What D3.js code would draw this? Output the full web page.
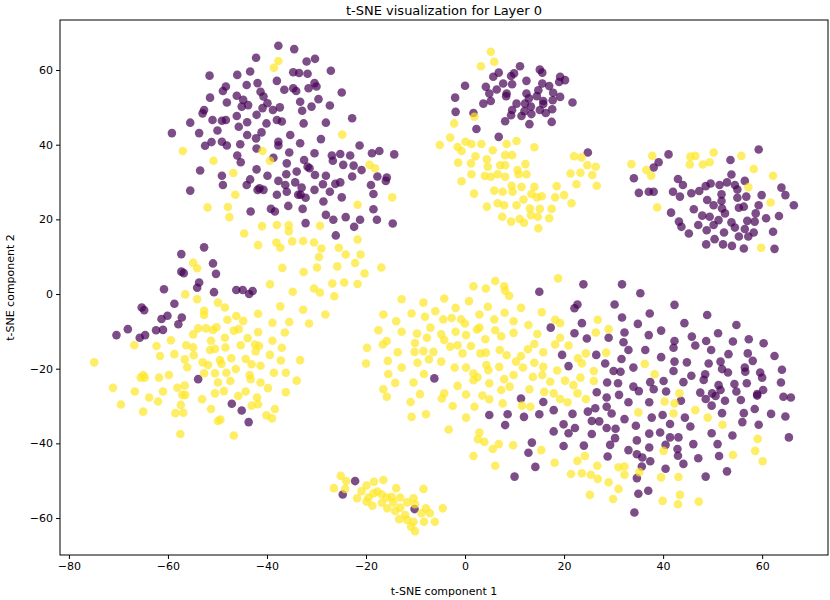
<!DOCTYPE html>
<html>
<head>
<meta charset="utf-8">
<script src="https://cdn.jsdelivr.net/npm/d3@7"></script>
<style>
  body { margin: 0; background: #fff; }
  svg { font-family: "DejaVu Sans", sans-serif; }
</style>
</head>
<body>
<div id="chart"></div>
<script>
var xTicks = [-80, -60, -40, -20, 0, 20, 40, 60];
var yTicks = [-60, -40, -20, 0, 20, 40, 60];

// label 0 (purple) and label 1 (yellow), grouped by cluster
var purpleTopLeft = [[-37.7,66.5],[-34.5,65.6],[-42.2,63.3],[-32.0,62.3],[-30.3,63.0],[-51.6,58.5],[-46.0,58.7],[-43.4,59.6],[-34.7,59.4],[-33.5,59.2],[-31.8,59.0],[-27.1,59.8],[-48.3,55.6],[-44.1,56.0],[-41.9,56.5],[-38.0,57.1],[-36.5,54.7],[-34.7,55.1],[-34.1,54.4],[-30.4,56.5],[-30.0,55.6],[-31.6,55.1],[-24.9,54.0],[-51.5,52.6],[-48.9,54.4],[-46.1,53.1],[-44.8,52.0],[-41.3,54.2],[-40.7,52.9],[-43.8,50.6],[-45.1,50.2],[-48.1,51.3],[-39.9,51.1],[-33.3,51.5],[-29.6,52.2],[-27.3,50.5],[-31.0,50.2],[-52.7,49.3],[-53.0,48.4],[-40.9,49.8],[-38.8,49.3],[-37.4,50.0],[-32.9,49.1],[-42.1,48.0],[-46.1,47.7],[-44.0,46.0],[-48.3,46.6],[-49.1,46.4],[-51.0,46.6],[-55.5,45.9],[-38.0,46.6],[-37.0,46.2],[-40.1,45.7],[-32.6,45.7],[-28.1,45.9],[-22.8,47.1],[-59.2,43.1],[-53.7,43.1],[-50.0,43.8],[-45.7,44.8],[-44.0,42.6],[-42.2,41.7],[-41.1,43.3],[-35.3,42.6],[-33.3,40.4],[-29.1,41.5],[-37.7,40.8],[-37.7,39.8],[-51.2,40.7],[-49.1,40.8],[-48.1,39.8],[-52.5,39.7],[-45.4,40.1],[-42.1,39.0],[-46.0,37.1],[-45.3,35.3],[-38.7,36.5],[-35.5,37.9],[-36.0,35.0],[-32.5,35.9],[-30.4,37.7],[-26.9,37.1],[-25.2,37.5],[-23.2,37.1],[-21.3,39.8],[-18.8,37.7],[-17.3,38.3],[-14.3,37.4],[-26.7,35.7],[-24.6,34.6],[-22.5,34.4],[-20.9,33.2],[-31.8,34.1],[-31.4,33.7],[-34.0,32.8],[-36.1,32.1],[-39.9,31.7],[-42.1,33.4],[-49.1,31.7],[-48.9,29.2],[-53.5,33.1],[-44.1,29.2],[-43.4,30.7],[-41.5,28.3],[-41.9,27.9],[-40.7,27.9],[-37.7,30.3],[-36.3,29.2],[-34.3,29.9],[-33.0,28.5],[-33.2,26.6],[-32.2,25.8],[-30.4,27.9],[-28.7,29.4],[-28.1,31.7],[-30.3,31.9],[-26.2,29.5],[-25.2,29.9],[-22.8,31.5],[-17.7,31.5],[-15.8,31.2],[-16.0,30.3],[-19.0,29.2],[-18.5,26.8],[-27.3,27.4],[-24.9,25.9],[-28.6,24.8],[-38.0,26.6],[-36.0,27.4],[-33.7,26.6],[-55.5,27.7],[-43.3,22.1],[-39.2,22.8],[-38.4,22.1],[-35.7,23.6],[-32.8,22.8],[-28.1,21.2],[-26.6,19.9],[-24.1,20.6],[-21.2,19.9],[-18.5,22.7],[-17.8,19.9],[-14.6,18.9],[-32.2,19.0],[-26.1,15.7],[-22.4,18.0]];
var yellowTopLeft = [[-37.7,62.4],[-38.6,60.6],[-57.0,38.3],[-50.8,35.7],[-40.9,38.3],[-39.4,35.7],[-24.8,42.7],[-46.8,32.4],[-46.4,26.6],[-52.0,23.2],[-47.9,23.3],[-47.6,20.6],[-19.3,34.6],[-18.2,33.7],[-14.7,25.9],[-21.7,23.9],[-29.3,18.3],[-38.0,18.5],[-41.0,18.2],[-35.6,18.4],[-35.6,16.8],[-44.6,16.2],[-38.1,13.8],[-37.3,12.4],[-34.9,14.1],[-32.7,14.2],[-30.5,13.8],[-29.0,12.2],[-29.5,9.9],[-25.5,12.4],[-21.7,14.6],[-24.1,10.6],[-21.1,10.6],[-22.2,8.3],[-25.8,7.4],[-29.9,7.1],[-32.6,5.9],[-36.9,7.0],[-16.9,7.1],[-39.4,2.6],[-34.8,0.6],[-30.5,1.5],[-29.3,0.4],[-26.8,2.8],[-24.4,3.1],[-26.4,-0.6],[-37.3,-3.3],[-32.7,-4.2],[-28.2,-5.5],[-38.9,-7.7],[-35.5,-7.5],[-31.5,-7.9]];

var purpleLeft = [[-52.7,12.5],[-57.3,10.7],[-50.9,8.2],[-57.3,6.0],[-56.8,5.6],[-50.3,5.4],[-53.7,3.1],[-54.1,1.7],[-60.8,1.3],[-50.7,0.5],[-46.2,1.1],[-44.9,1.1],[-43.6,0.0],[-42.9,0.8],[-58.7,-2.6],[-65.3,-3.6],[-64.8,-4.3],[-60.1,-5.8],[-61.3,-6.7],[-57.2,-6.3],[-57.9,-8.1],[-68.1,-9.4],[-70.4,-11.0],[-62.4,-9.7],[-61.0,-9.6],[-64.6,-11.0],[-65.7,-11.7],[-53.9,-22.8],[-47.1,-29.4],[-45.1,-31.2],[-43.7,-34.3]];
var yellowLeft = [[-41.8,13.1],[-54.9,8.4],[-54.1,6.9],[-56.5,-0.1],[-54.1,-1.4],[-49.9,-2.3],[-48.5,-3.6],[-52.7,-4.5],[-52.7,-5.6],[-41.8,-5.3],[-48.0,-6.9],[-46.2,-5.9],[-44.8,-7.2],[-53.9,-9.2],[-52.3,-9.2],[-50.9,-9.6],[-50.2,-8.9],[-54.9,-10.8],[-46.7,-9.8],[-45.7,-9.4],[-41.8,-10.2],[-66.8,-13.7],[-62.3,-13.9],[-59.4,-12.4],[-56.3,-13.7],[-54.9,-14.3],[-51.3,-12.5],[-48.5,-11.7],[-43.9,-11.8],[-41.6,-13.9],[-51.5,-15.0],[-50.5,-14.7],[-48.4,-14.3],[-45.3,-13.7],[-42.4,-13.5],[-74.9,-18.3],[-61.6,-16.6],[-58.7,-16.1],[-56.6,-17.5],[-54.8,-16.4],[-56.1,-19.6],[-53.0,-18.3],[-51.9,-19.0],[-49.5,-17.7],[-47.2,-17.2],[-44.3,-17.4],[-42.3,-15.4],[-43.1,-18.8],[-41.3,-19.2],[-49.2,-18.7],[-46.3,-20.1],[-48.2,-21.1],[-50.5,-21.2],[-52.7,-21.2],[-65.0,-21.7],[-64.7,-22.4],[-65.5,-22.4],[-61.8,-22.4],[-59.8,-21.7],[-71.1,-25.1],[-66.7,-26.1],[-63.8,-27.7],[-62.0,-28.8],[-61.0,-26.1],[-69.5,-29.6],[-65.0,-31.5],[-58.1,-25.1],[-56.6,-24.5],[-57.1,-27.0],[-56.5,-27.0],[-57.4,-29.7],[-58.5,-31.9],[-56.9,-31.8],[-53.1,-28.2],[-51.3,-30.8],[-50.5,-26.6],[-48.7,-26.0],[-49.9,-23.7],[-47.4,-23.3],[-49.9,-34.0],[-49.4,-33.6],[-45.8,-27.3],[-44.3,-26.1],[-43.5,-21.7],[-43.3,-22.8],[-41.3,-23.7],[-42.0,-27.7],[-41.8,-29.5],[-43.1,-29.9],[-40.1,-32.5],[-39.8,-25.2],[-57.5,-37.5],[-46.7,-37.9],[-36.4,-10.3],[-38.9,-12.5],[-37.0,-14.4],[-39.4,-16.3],[-33.3,-17.7],[-37.2,-17.8],[-38.6,-21.1],[-36.2,-21.1],[-34.0,-23.2],[-36.2,-26.3],[-38.4,-30.8],[-39.0,-33.3]];

var purpleTopMid = [[11.1,61.0],[15.1,60.1],[15.6,59.3],[19.2,58.2],[20.2,57.3],[19.0,56.8],[6.8,59.3],[5.7,58.2],[9.3,58.4],[9.9,59.1],[0.0,55.8],[4.2,55.5],[6.4,54.8],[7.7,56.4],[9.5,56.2],[12.4,57.1],[15.6,56.4],[17.0,55.7],[-2.0,52.6],[4.9,53.7],[8.4,53.7],[8.3,53.0],[12.4,53.7],[14.8,54.6],[17.8,53.9],[3.7,51.0],[5.2,51.7],[10.4,51.0],[12.1,51.0],[12.9,52.4],[14.5,53.0],[15.8,51.7],[17.7,51.9],[19.2,52.8],[21.7,51.3],[-1.9,48.8],[1.7,48.5],[9.5,49.3],[12.0,49.0],[13.3,50.2],[15.1,49.3],[15.8,50.9],[17.6,49.5],[16.3,48.5],[9.3,47.9],[11.4,47.7],[13.4,48.2],[8.1,46.3],[13.0,45.5],[17.5,46.1],[2.3,44.2],[6.8,42.1],[24.8,37.9]];
var yellowTopMid = [[5.2,64.9],[5.9,62.2],[3.2,61.0],[1.9,47.5],[-2.2,45.7],[-3.0,41.9],[-5.1,39.9],[-1.5,39.4],[0.1,40.8],[1.3,40.2],[3.3,40.2],[-0.7,38.3],[2.1,36.9],[-1.4,35.2],[1.2,35.0],[4.4,36.1],[4.6,34.1],[5.6,38.5],[8.4,40.2],[10.4,41.0],[14.0,39.3],[8.1,37.2],[9.5,37.2],[7.1,34.5],[8.1,34.5],[1.3,32.1],[-0.7,30.2],[4.0,31.6],[5.2,31.4],[6.6,32.1],[8.1,31.4],[10.6,33.2],[12.2,34.8],[10.8,32.1],[12.4,32.1],[1.8,26.9],[5.9,27.7],[7.6,27.4],[9.4,29.0],[9.6,27.4],[11.4,28.7],[14.0,28.7],[13.4,26.8],[15.5,26.2],[14.5,25.9],[11.8,25.3],[6.6,24.3],[7.9,23.8],[4.4,23.4],[10.4,23.8],[13.1,22.9],[15.1,22.8],[13.3,21.1],[14.7,20.7],[17.5,22.8],[17.0,20.3],[7.5,20.7],[9.3,19.4],[11.0,20.1],[11.9,19.1],[14.8,17.6],[18.5,28.9],[20.0,26.5],[18.2,25.9],[21.5,24.3],[21.3,32.3],[22.0,36.9],[23.5,36.6],[24.7,34.5],[26.4,34.1],[23.3,32.5],[25.7,31.9],[22.5,29.4],[26.6,29.0]];

var purpleTopRight = [[41.1,37.4],[39.1,35.3],[38.1,33.9],[59.3,38.7],[53.6,35.9],[34.1,31.0],[35.1,27.1],[37.1,27.4],[38.1,27.4],[42.0,27.4],[43.0,30.8],[44.0,29.2],[43.4,26.1],[45.7,27.0],[47.3,27.6],[48.6,28.9],[49.6,29.6],[51.4,29.2],[52.9,29.9],[53.8,32.0],[54.5,29.2],[55.0,28.0],[56.5,30.3],[51.8,26.7],[48.9,25.2],[50.2,23.8],[51.8,24.9],[51.9,22.9],[55.0,25.8],[56.8,26.1],[55.3,23.1],[59.9,26.5],[59.3,23.8],[63.9,28.5],[64.7,26.5],[66.4,23.8],[41.6,21.8],[46.2,22.7],[47.9,21.0],[49.4,20.7],[51.2,19.8],[52.5,21.6],[53.8,19.2],[57.0,19.6],[58.7,21.6],[60.8,20.3],[63.4,20.9],[43.2,19.4],[43.7,18.0],[45.2,16.2],[47.1,18.5],[48.8,17.1],[48.7,13.3],[50.4,14.7],[52.3,16.5],[52.1,13.3],[53.9,12.9],[54.5,17.8],[55.3,15.4],[56.3,12.2],[56.5,17.4],[57.2,15.4],[58.3,16.5],[58.5,19.4],[62.2,16.7],[62.5,12.1],[50.2,18.5],[56.3,23.4]];
var yellowTopRight = [[33.6,34.8],[37.8,37.0],[36.6,33.2],[37.6,31.7],[45.5,36.8],[46.5,37.0],[45.4,34.7],[48.0,34.7],[49.4,35.3],[50.2,37.9],[55.8,37.0],[58.3,33.5],[62.2,31.7],[57.2,28.6],[61.7,24.5],[38.8,23.2],[59.8,12.4]];

var purpleMain = [[15.0,0.6],[-6.2,-22.6],[11.3,-28.0],[15.8,-28.9],[4.9,-32.4],[8.6,-32.2],[11.9,-32.9],[15.0,-32.2],[8.1,-35.1],[13.5,-39.8],[12.8,-42.5],[14.2,-46.3],[10.0,-48.9],
  [23.9,2.6],[31.7,2.6],[35.4,0.2],[22.7,-2.8],[22.1,-3.8],[30.2,-2.8],[42.3,-2.9],[37.3,-5.2],[31.7,-6.3],[48.9,-5.6],[17.3,-9.0],[23.6,-7.8],[34.9,-8.0],[44.3,-7.8],[54.8,-8.3],[22.1,-10.5],[24.6,-11.9],[32.2,-10.3],[29.0,-11.7],[37.1,-11.0],[39.6,-9.8],[45.8,-11.4],[51.1,-10.5],[57.3,-12.1],[60.3,-13.2],[32.0,-12.9],[42.3,-12.6],[46.5,-13.8],[48.7,-12.6],[54.1,-12.7],[33.0,-15.0],[36.4,-15.0],[42.1,-14.4],[49.7,-15.0],[53.2,-16.1],[57.1,-15.9],[19.6,-16.3],[26.5,-16.3],[31.6,-17.4],[39.6,-16.9],[62.5,-16.6],[20.9,-19.3],[28.3,-18.6],[34.0,-19.7],[42.3,-18.1],[44.8,-18.3],[49.2,-18.6],[51.6,-18.1],[51.9,-20.1],[53.1,-21.0],[56.5,-19.7],[58.1,-17.9],[56.6,-20.8],[59.6,-21.0],[64.0,-20.3],[30.0,-20.6],[31.4,-20.8],[42.1,-20.6],[45.7,-21.9],[48.5,-21.5],[48.2,-23.0],[28.7,-23.7],[30.9,-23.9],[34.0,-24.8],[35.1,-26.0],[37.4,-23.6],[38.1,-25.5],[40.1,-23.3],[40.6,-26.1],[44.1,-23.6],[51.2,-24.4],[51.6,-25.7],[54.4,-24.1],[56.9,-23.9],[60.0,-22.4],[60.2,-25.7],[63.8,-23.7],[26.6,-26.3],[47.5,-26.4],[49.9,-26.6],[54.8,-26.1],[59.0,-26.8],
  [28.6,-27.7],[31.1,-27.0],[28.6,-30.2],[33.0,-29.0],[37.2,-29.0],[43.6,-28.6],[48.6,-28.1],[50.6,-27.3],[52.5,-28.6],[55.7,-28.4],[59.0,-27.2],[64.3,-27.5],[65.8,-27.7],[17.9,-31.1],[21.7,-32.1],[24.8,-31.5],[26.3,-30.6],[29.6,-32.0],[32.2,-33.5],[37.7,-33.1],[39.9,-32.4],[41.4,-34.8],[44.4,-33.1],[45.5,-35.5],[49.8,-29.9],[51.9,-31.9],[56.3,-31.9],[58.5,-30.8],[61.8,-32.1],[64.7,-32.8],[56.0,-34.3],[59.3,-35.0],[17.9,-36.8],[19.9,-34.9],[20.9,-37.3],[22.2,-35.9],[25.6,-34.0],[27.1,-34.1],[25.6,-37.5],[28.6,-35.9],[30.4,-36.1],[30.3,-38.6],[34.5,-35.3],[34.7,-39.2],[37.2,-37.4],[39.4,-37.1],[41.4,-38.4],[43.1,-38.4],[46.1,-40.2],[49.8,-37.3],[51.0,-40.2],[54.0,-37.9],[65.4,-38.4],[19.9,-40.7],[24.0,-40.6],[29.3,-40.4],[28.8,-43.5],[33.0,-41.8],[34.7,-42.9],[35.8,-43.8],[37.2,-41.1],[37.4,-44.8],[40.5,-40.4],[42.9,-41.5],[43.0,-43.3],[44.1,-45.5],[47.1,-44.0],[51.3,-43.4],[35.7,-46.2],[40.5,-46.8],[34.7,-49.3],[48.6,-48.9],[52.9,-47.5],[35.0,-53.5],[37.0,-52.7],[34.2,-58.5]];
var yellowMain = [[-20.3,5.5],[-21.7,2.7],[1.7,2.1],[4.2,1.5],[6.1,3.5],[7.9,2.1],[8.1,0.9],[8.9,-0.5],[-12.8,-1.4],[-8.4,-2.3],[-4.2,-1.2],[0.8,-1.9],[4.6,-3.4],[-1.9,-3.7],[11.3,-3.7],[15.5,-4.9],[-16.5,-5.5],[-10.8,-5.2],[-6.0,-4.6],[-8.1,-6.1],[-4.4,-6.8],[-2.7,-6.4],[-0.8,-6.8],[0.0,-7.9],[2.9,-5.5],[5.9,-6.8],[8.0,-5.0],[9.8,-7.3],[12.8,-8.3],[-13.9,-7.3],[-17.5,-9.7],[-12.8,-10.1],[-9.7,-10.6],[-7.0,-9.0],[-7.7,-11.7],[-4.8,-10.8],[-4.2,-12.3],[-1.9,-10.1],[0.2,-11.0],[2.4,-9.5],[2.9,-9.0],[6.1,-9.7],[7.3,-11.3],[9.8,-10.4],[4.1,-12.1],[14.6,-10.7],[-15.8,-12.6],[-16.6,-13.5],[-10.1,-13.1],[-1.5,-13.7],[1.2,-13.9],[-3.0,-14.1],[-19.8,-14.4],[-13.6,-15.6],[-10.2,-15.5],[-8.4,-15.3],[-6.4,-15.5],[-0.5,-15.9],[3.1,-15.9],[4.2,-15.7],[7.0,-15.0],[8.4,-16.4],[12.7,-14.8],[14.0,-13.4],[15.8,-15.6],[-20.0,-18.6],[-15.6,-17.9],[-9.6,-18.4],[-7.3,-17.5],[-4.8,-18.1],[-2.1,-19.7],[0.2,-19.7],[4.3,-19.0],[4.7,-20.4],[6.9,-19.5],[10.3,-18.1],[11.3,-16.6],[11.7,-19.7],[14.0,-18.4],[15.8,-19.5],[-12.8,-19.7],[-15.5,-21.4],[-14.1,-23.8],[-10.4,-23.7],[-8.3,-21.4],[1.7,-21.3],[2.5,-22.3],[1.7,-23.1],[4.9,-23.9],[7.9,-22.8],[9.8,-21.7],[13.7,-22.2],[15.6,-21.7],[-16.5,-25.5],[-15.8,-27.5],[-9.1,-26.8],[-11.0,-28.9],[-1.5,-24.6],[0.2,-26.9],[-4.2,-26.6],[-4.7,-28.0],[3.5,-27.2],[4.9,-28.2],[7.3,-25.7],[9.0,-24.8],[13.0,-25.5],[16.0,-26.2],[7.6,-29.3],[11.5,-29.9],[13.2,-30.2],[-2.5,-30.0],[1.9,-30.2],[-10.8,-32.9],[-7.9,-32.2],[0.2,-33.1],[-3.3,-36.3],[2.9,-37.1],[2.6,-38.9],[3.9,-39.6],[6.8,-40.2],[5.6,-41.5],[9.7,-40.5],[15.4,-41.8],[1.7,-43.4],[6.1,-46.0],
  [18.8,4.2],[18.2,-6.9],[19.2,-7.8],[26.8,-6.9],[26.4,-10.3],[29.0,-9.4],[19.2,-11.7],[18.2,-13.5],[20.9,-13.8],[24.4,-15.9],[28.5,-15.7],[22.8,-17.2],[23.6,-18.6],[18.6,-20.5],[26.0,-20.6],[36.3,-18.7],[38.3,-21.5],[23.3,-22.4],[20.2,-23.2],[26.0,-23.3],[17.2,-23.5],[21.9,-24.4],[17.9,-26.6],[22.7,-26.6],[43.3,-26.6],
  [19.2,-28.1],[20.7,-29.0],[24.4,-28.1],[40.3,-28.8],[42.3,-29.3],[35.0,-31.7],[42.1,-32.0],[46.5,-31.1],[49.0,-33.1],[52.0,-35.0],[59.1,-38.8],[58.6,-42.0],[60.1,-44.8],[54.1,-43.1],[40.1,-42.0],[24.2,-43.4],[22.7,-44.7],[18.1,-45.2],[26.7,-46.0],[31.0,-46.4],[32.2,-46.2],[32.2,-48.4],[35.2,-47.7],[21.4,-48.2],[23.6,-48.0],[25.4,-48.4],[26.8,-49.5],[29.0,-50.4],[31.0,-52.2],[25.2,-53.8],[29.9,-54.9],[39.6,-49.1],[43.1,-49.0],[43.4,-53.8],[39.9,-55.4],[43.0,-56.3],[47.2,-55.6]];

var purpleBottom = [[-24.7,-53.7],[-22.2,-50.1],[-10.2,-57.6]];
var yellowBottom = [[-25.1,-48.7],[-24.0,-50.1],[-26.5,-52.0],[-24.2,-52.2],[-21.8,-54.7],[-20.9,-52.8],[-19.9,-51.3],[-18.4,-50.3],[-16.5,-49.8],[-19.5,-54.5],[-18.5,-53.4],[-17.7,-52.9],[-16.8,-53.7],[-15.8,-54.5],[-14.8,-54.3],[-13.9,-52.0],[-13.1,-54.5],[-19.9,-55.6],[-18.7,-56.7],[-16.8,-55.9],[-15.7,-57.4],[-14.5,-55.8],[-14.1,-58.1],[-13.1,-57.2],[-11.7,-55.8],[-10.4,-54.7],[-10.1,-56.3],[-12.1,-59.2],[-13.3,-60.3],[-11.7,-60.5],[-10.9,-62.3],[-10.1,-63.5],[-10.4,-61.0],[-8.8,-58.7],[-7.9,-57.4],[-7.1,-58.7],[-8.3,-61.0],[-6.1,-61.0],[-4.5,-57.4],[-8.4,-52.2]];

// build one list of points with their label, cluster by cluster
function tag(points, label) {
    return points.map(function (p) { return { x: p[0], y: p[1], label: label }; });
}
var data = [].concat(
    tag(purpleTopLeft, 0), tag(yellowTopLeft, 1),
    tag(purpleLeft, 0), tag(yellowLeft, 1),
    tag(purpleTopMid, 0), tag(yellowTopMid, 1),
    tag(purpleTopRight, 0), tag(yellowTopRight, 1),
    tag(purpleMain, 0), tag(yellowMain, 1),
    tag(purpleBottom, 0), tag(yellowBottom, 1)
);

var margin = { top: 20, right: 2, bottom: 45, left: 60 },
    width = 830 - margin.left - margin.right,
    height = 600 - margin.top - margin.bottom;

var x = d3.scaleLinear().domain([-81.8, 73.3]).range([0, width]);
var y = d3.scaleLinear().domain([-69.9, 73.4]).range([height, 0]);
var color = d3.scaleOrdinal().domain([0, 1]).range(["#440154", "#fde725"]);

var fmt = function (d) { return d < 0 ? "\u2212" + Math.abs(d) : String(d); };

var svg = d3.select("#chart").append("svg")
    .attr("width", 830)
    .attr("height", 600);

var g = svg.append("g")
    .attr("transform", "translate(" + margin.left + "," + margin.top + ")");

// points
g.selectAll(".dot")
    .data(data)
    .enter().append("circle")
    .attr("class", "dot")
    .attr("cx", function (d) { return x(d.x); })
    .attr("cy", function (d) { return y(d.y); })
    .attr("r", 4.3)
    .attr("fill", function (d) { return color(d.label); })
    .attr("fill-opacity", 0.7);

// axes
var xAxis = g.append("g")
    .attr("transform", "translate(0," + height + ")")
    .call(d3.axisBottom(x).tickValues(xTicks).tickSize(4).tickPadding(3).tickFormat(fmt));
var yAxis = g.append("g")
    .call(d3.axisLeft(y).tickValues(yTicks).tickSize(4).tickPadding(3).tickFormat(fmt));

[xAxis, yAxis].forEach(function (a) {
    a.select(".domain").remove();
    a.selectAll("text").attr("font-size", 11).attr("fill", "#000")
        .style("font-family", "'DejaVu Sans', sans-serif");
    a.selectAll("line").attr("stroke", "#000");
});

// frame
g.append("rect")
    .attr("width", width)
    .attr("height", height)
    .attr("fill", "none")
    .attr("stroke", "#000")
    .attr("stroke-width", 1);

// labels
svg.append("text")
    .attr("x", margin.left + width / 2)
    .attr("y", 15)
    .attr("text-anchor", "middle")
    .attr("font-size", 13)
    .text("t-SNE visualization for Layer 0");

svg.append("text")
    .attr("x", margin.left + width / 2)
    .attr("y", 595)
    .attr("text-anchor", "middle")
    .attr("font-size", 11)
    .text("t-SNE component 1");

svg.append("text")
    .attr("transform", "translate(14," + (margin.top + height / 2) + ") rotate(-90)")
    .attr("text-anchor", "middle")
    .attr("font-size", 11)
    .text("t-SNE component 2");
</script>
</body>
</html>
